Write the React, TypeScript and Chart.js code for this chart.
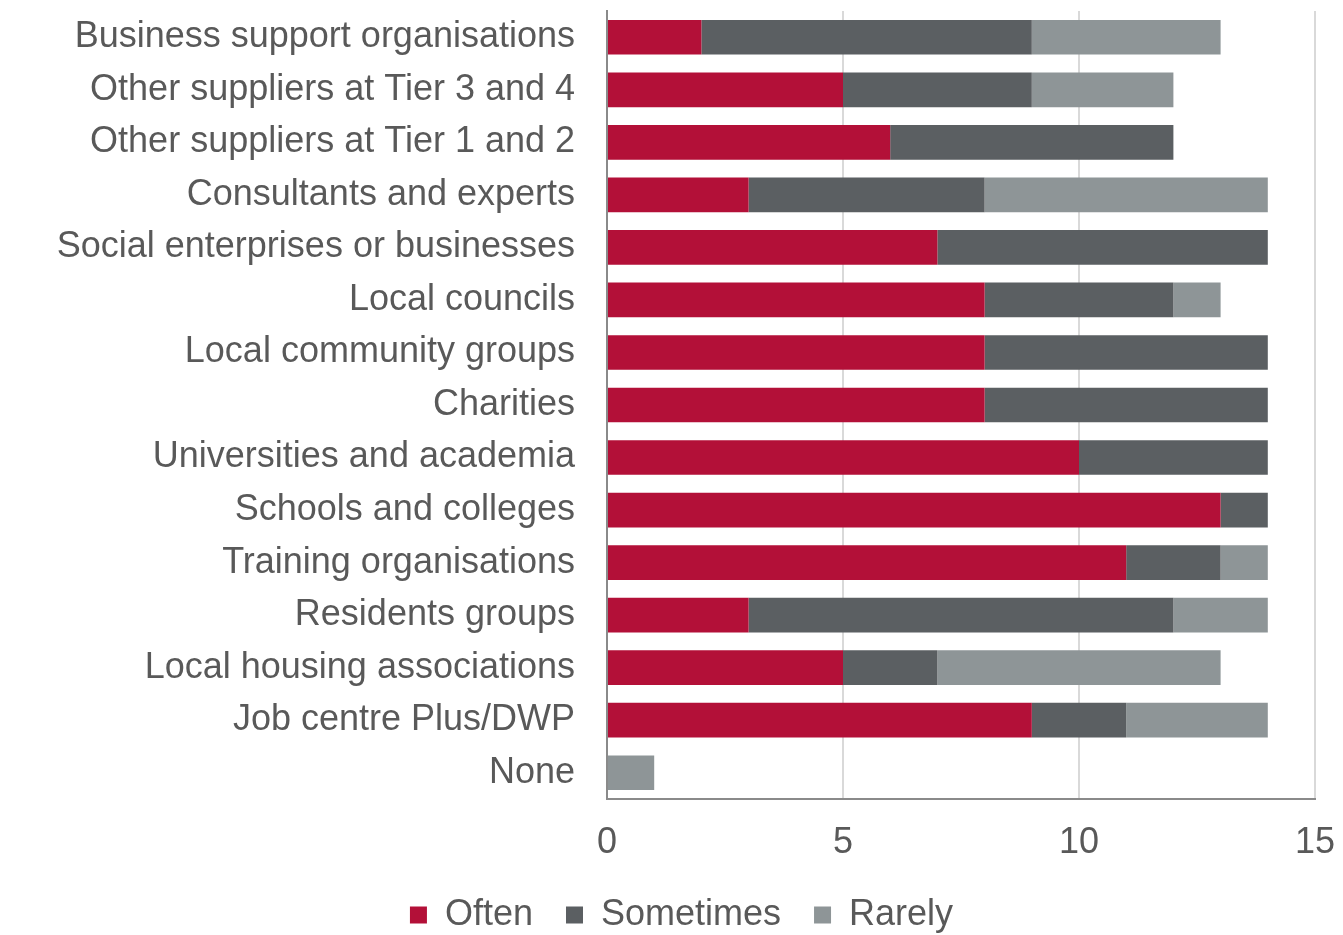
import { useEffect, useRef } from 'react';
import { Chart, registerables } from 'chart.js';

Chart.register(...registerables);

const categories = [
  'Business support organisations',
  'Other suppliers at Tier 3 and 4',
  'Other suppliers at Tier 1 and 2',
  'Consultants and experts',
  'Social enterprises or businesses',
  'Local councils',
  'Local community groups',
  'Charities',
  'Universities and academia',
  'Schools and colleges',
  'Training organisations',
  'Residents groups',
  'Local housing associations',
  'Job centre Plus/DWP',
  'None',
];
const often = [2, 5, 6, 3, 7, 8, 8, 8, 10, 13, 11, 3, 5, 9, 0];
const sometimes = [7, 4, 6, 5, 7, 4, 6, 6, 4, 1, 2, 9, 2, 2, 0];
const rarely = [4, 3, 0, 6, 0, 1, 0, 0, 0, 0, 1, 2, 6, 3, 1];
const xMin = 0;
const xMax = 15;
const xStep = 5;

const FONT = '"Liberation Sans", Arial, sans-serif';
const TEXT = '#595959';

export default function App() {
  const ref = useRef<HTMLCanvasElement>(null);
  useEffect(() => {
    document.body.style.margin = '0';
    const chart = new Chart(ref.current!, {
      type: 'bar',
      data: {
        labels: categories,
        datasets: [
          { label: 'Often', data: often, backgroundColor: '#B31038', barPercentage: 0.66, categoryPercentage: 1 },
          { label: 'Sometimes', data: sometimes, backgroundColor: '#5B5F62', barPercentage: 0.66, categoryPercentage: 1 },
          { label: 'Rarely', data: rarely, backgroundColor: '#8E9597', barPercentage: 0.66, categoryPercentage: 1 },
        ],
      },
      options: {
        indexAxis: 'y',
        animation: false,
        responsive: false,
        maintainAspectRatio: false,
        layout: { padding: { left: 48, right: 28, top: 11, bottom: -8 } },
        scales: {
          x: {
            stacked: true,
            min: xMin,
            max: xMax,
            ticks: { stepSize: xStep, color: TEXT, font: { family: FONT, size: 36 }, padding: 22 },
            grid: {
              color: (c: any) => (c.tick && c.tick.value === 0 ? 'rgba(0,0,0,0)' : '#d9d9d9'),
              lineWidth: 2,
              drawTicks: false,
            },
            border: { color: '#8a8a8a', width: 2 },
            afterFit: (s: any) => {
              s.height = 65;
              s.paddingLeft = 0;
              s.paddingRight = 0;
            },
          },
          y: {
            stacked: true,
            grid: { display: false },
            border: { color: '#8a8a8a', width: 2 },
            ticks: { color: TEXT, font: { family: FONT, size: 36 }, padding: 24, autoSkip: false },
            afterFit: (s: any) => {
              s.width = 559;
              s.paddingTop = 0;
              s.paddingBottom = 0;
            },
          },
        },
        plugins: {
          legend: {
            position: 'bottom',
            labels: {
              color: TEXT,
              font: { family: FONT, size: 36 },
              boxWidth: 17,
              boxHeight: 17,
              padding: 33,
            },
          },
          tooltip: { enabled: false },
        },
      },
    });
    return () => chart.destroy();
  }, []);
  return <canvas ref={ref} width={1343} height={935} style={{ display: 'block' }} />;
}
